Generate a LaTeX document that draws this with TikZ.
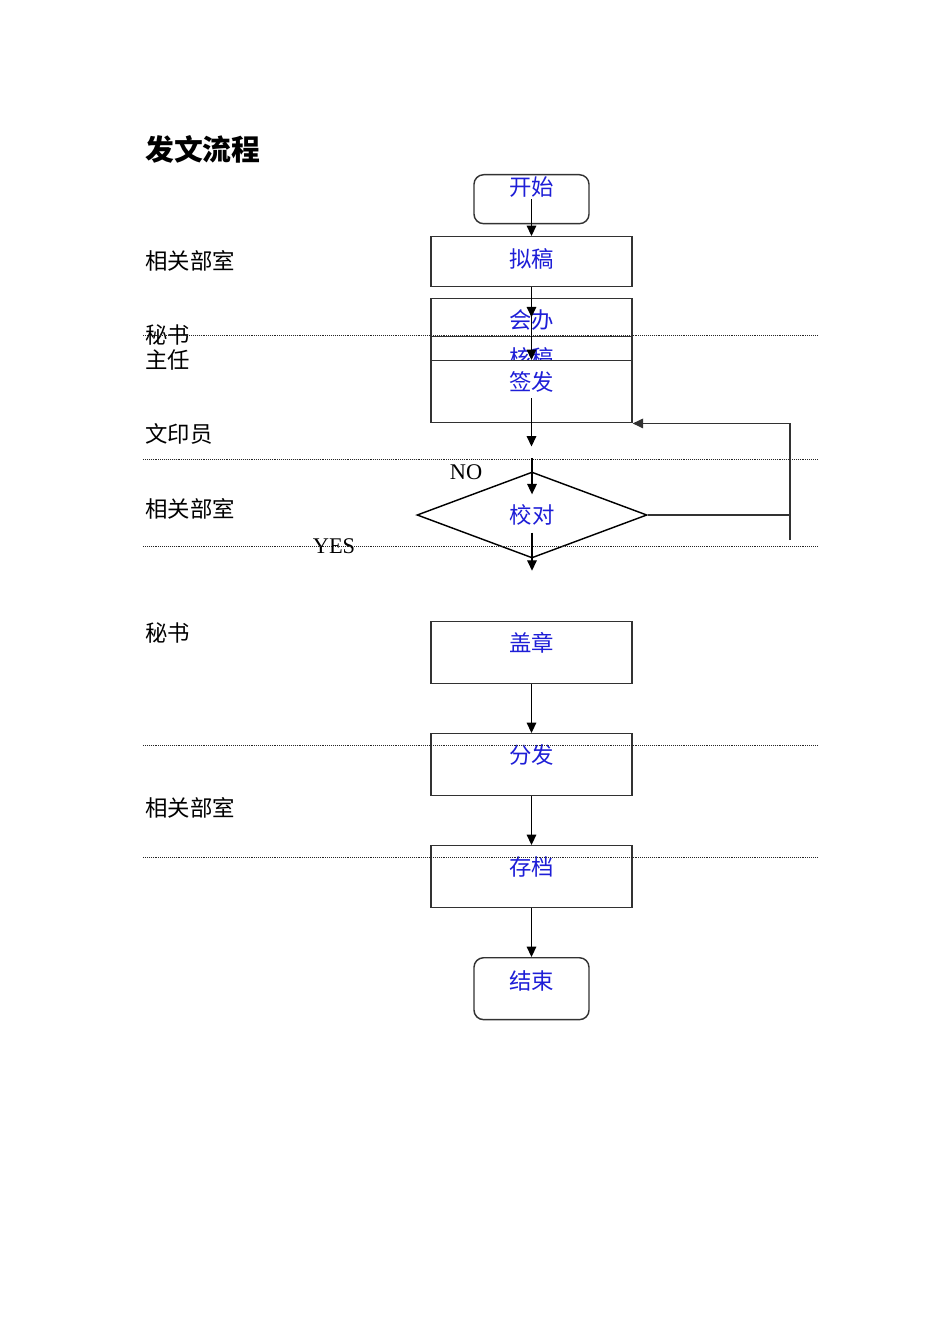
\documentclass[tikz,border=0pt]{standalone}
\usepackage{fontspec}
\setmainfont{Liberation Serif}
\newfontfamily\cjk{Noto Sans CJK SC}
\usetikzlibrary{shapes.geometric,arrows.meta}
\definecolor{txtblue}{RGB}{30,30,215}
\definecolor{boxline}{RGB}{50,50,50}
\tikzset{
  flow/.style={draw=boxline, line width=0.9pt, fill=white, text=txtblue,
    font=\cjk\fontsize{14}{16}\selectfont, anchor=north, inner sep=0pt,
    minimum width=125.6pt, text height=18.5pt, text depth=20.25pt},
  term/.style={flow, rounded corners=6pt, minimum width=71.9pt},
  lane/.style={black!85, line width=0.6pt, dash pattern=on 0.6pt off 0.6pt},
  who/.style={anchor=west, inner sep=0pt, font=\cjk\fontsize{14}{16}\selectfont},
  >={Triangle[length=6.5pt,width=6pt]}
}
\begin{document}
\begin{tikzpicture}[x=0.625pt, y=-0.625pt]
        \useasboundingbox (0,0) rectangle (950,1344);

        \node[anchor=west, inner sep=0pt, font=\cjk\bfseries\fontsize{18}{20}\selectfont] (title) at (145,149) {发文流程};

        % lanes
        \node[who] (dept1) at (145,261) {相关部室};
        \node[who] (sec1)  at (145,335) {秘书};
        \node[who] (head)  at (145,360) {主任};
        \node[who] (print) at (145,434) {文印员};
        \node[who] (dept2) at (145,509) {相关部室};
        \node[who] (sec2)  at (145,633) {秘书};
        \node[who] (dept3) at (145,808) {相关部室};

        % steps
        \node[term, text height=12.8pt, text depth=17.8pt] (kaishi) at (531.5,174) {开始};
        \node[flow, text height=19pt, text depth=12.25pt] (nigao) at (531.5,236) {拟稿};
        \node[flow] (huiban) at (531.5,298) {会办};
        \node[flow] (hegao)  at (531.5,336) {核稿};
        \node[flow] (qianfa) at (531.5,360) {签发};
        \node[diamond, draw=black, line width=0.9pt, fill=white, text=txtblue, inner sep=0pt,
              minimum width=143.75pt, minimum height=53.75pt,
              font=\cjk\fontsize{14}{16}\selectfont] (jiaodui) at (532,515) {校对};
        \node[flow] (gaizhang) at (531.5,621) {盖章};
        \node[flow] (fenfa)    at (531.5,733) {分发};
        \node[flow] (cundang)  at (531.5,845) {存档};
        \node[term, text height=19.7pt, text depth=19pt] (jieshu) at (531.5,957) {结束};

        \node[font=\fontsize{14}{16}\selectfont, inner sep=0pt] (no)  at (466,472) {NO};
        \node[font=\fontsize{14}{16}\selectfont, inner sep=0pt] (yes) at (334,546) {YES};

        \foreach \y in {335.5,459.5,546,745,857}
            \draw[lane] (143,\y) -- (818,\y);

        \draw[line width=0.8pt, ->] (kaishi.center) -- (nigao.north);
        \draw[line width=0.8pt, ->] (nigao.south) -- ([yshift=-12pt]huiban.north);
        \draw[line width=0.8pt, ->] (nigao.south) -- (qianfa.north);
        \draw[line width=0.8pt, ->] ([yshift=-4pt]qianfa.center) -- ([yshift=-14.4pt]qianfa.south);
        \draw[line width=0.8pt, ->] ([yshift=8pt]jiaodui.north) -- ([yshift=-14.4pt]jiaodui.north);
        \draw[line width=0.8pt, ->] ([yshift=-11pt]jiaodui.center) -- ([yshift=-7.5pt]jiaodui.south);
        \draw[line width=0.8pt, ->] (gaizhang.south) -- (fenfa.north);
        \draw[line width=0.8pt, ->] (fenfa.south) -- (cundang.north);
        \draw[line width=0.8pt, ->] (cundang.south) -- (jieshu.north);

        % back to qianfa
        \coordinate (back) at (790,540);
        \draw[line width=0.8pt, boxline] (jiaodui.east) -- (jiaodui.east -| back);
        \draw[line width=0.8pt, boxline, ->] (back) |- (qianfa.south east);
\end{tikzpicture}
\end{document}
